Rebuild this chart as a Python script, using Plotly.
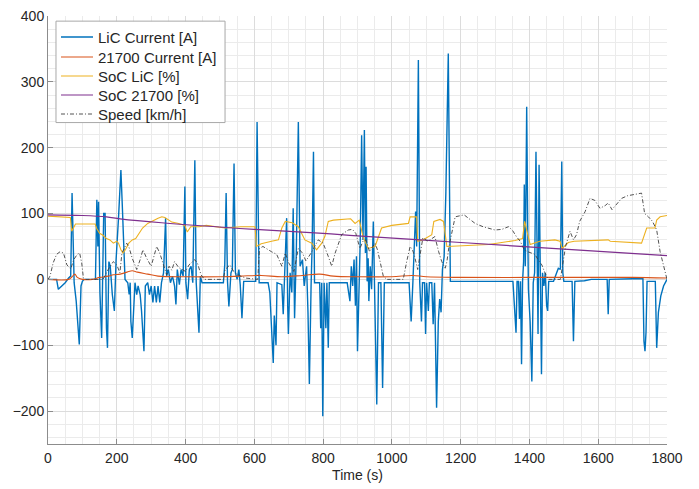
import plotly.graph_objects as go

# ---------------- data ----------------
lic_t = [0,25,30,40,50,60,66,70,73,76,
         82,91,96,100,105,138,142,145,147,151,
         156,160,162,166,170,173,177,181,187,193,
         198,205,212,216,220,224,232,236,239,241,
         245,249,253,258,262,268,272,279,283,290,
         295,300,305,310,315,320,325,330,336,342,
         345,350,356,362,368,372,376,382,387,393,
         398,401,406,411,416,421,427,431,435,439,
         443,448,455,510,514,518,522,526,532,536,
         541,545,550,555,559,564,569,604,608,611,
         614,622,640,645,650,655,658,663,666,680,
         684,690,694,697,699,704,709,713,717,722,
         728,733,740,745,752,756,760,765,768,772,
         775,790,793,796,799,803,808,811,815,818,
         870,878,882,886,890,894,897,900,904,908,
         912,916,920,923,925,928,931,933,937,941,
         946,950,956,961,968,973,978,1050,1053,1056,
         1061,1065,1069,1072,1077,1081,1086,1089,1095,1098,
         1101,1106,1109,1116,1120,1124,1130,1135,1139,1143,
         1147,1152,1157,1164,1167,1170,1352,1356,1361,1364,
         1368,1371,1374,1377,1380,1383,1385,1388,1392,1395,
         1397,1402,1407,1411,1415,1419,1422,1425,1428,1431,
         1435,1438,1442,1446,1450,1453,1456,1470,1478,1484,
         1490,1494,1497,1500,1524,1528,1532,1560,1580,1600,
         1626,1629,1632,1700,1730,1733,1736,1739,1742,1766,
         1770,1775,1782,1790,1800]
lic_current = [0,0,-15,-10,-5,2,5,131,60,-5,
               -33,-99,-10,-3,0,0,121,50,118,-20,
               -89,30,100,100,-74,-104,27,20,-23,-48,
               30,93,166,113,38,0,-5,-23,-5,-64,
               -89,-55,-5,-23,-10,-23,-48,-109,-10,-5,
               -23,-10,-35,-10,-35,-10,-35,-5,10,93,
               5,15,-5,5,-10,-38,15,-8,15,5,
               141,-5,-30,15,20,-5,181,-5,-35,-81,
               5,-5,-5,-5,22,131,-3,-41,10,15,
               176,10,0,15,-8,-59,-3,-3,239,50,
               -5,-5,-5,-20,-64,-127,-55,-100,-5,-8,
               -53,20,93,-40,-83,10,-20,108,-59,40,
               239,20,30,-10,20,-50,-159,-10,50,194,
               -5,-5,-74,-5,-208,-5,-74,-5,-104,-5,
               -5,-33,20,-10,30,-40,35,-109,-20,60,
               219,60,227,40,171,-3,32,-33,20,-15,
               88,-20,-190,-5,-5,-165,-5,-5,-30,-64,
               -5,50,103,50,333,-5,-64,-5,-5,-83,
               -5,-48,-5,-5,-68,-5,-195,-64,-30,-50,
               15,35,133,343,133,-3,-3,-38,-81,-3,
               -3,-60,-3,-129,-3,27,144,20,262,80,
               -15,-64,-155,-5,10,194,-20,-83,174,10,
               -144,10,-10,10,-40,-48,-3,-3,8,17,
               15,179,10,-3,-3,-94,-3,-2,0,0,
               0,-53,0,1,1,-94,-109,-80,-3,-3,
               -104,-50,-25,-10,0]

cur21700_t = [0,60,70,78,85,100,130,150,175,190,
              210,230,245,260,290,320,400,500,560,620,
              680,740,790,830,900,1000,1060,1100,1200,1400,
              1600,1700,1800]
cur21700 = [0,0,4,8,3,0,0,3,5,7,
            8,11,13,11,8,5,4,4,5,6,
            4,6,8,5,4,4,6,4,3,3,
            3,3,2]

soc_lic_t = [0,30,65,69,75,80,137,142,150,160,
             170,180,190,200,205,212,218,225,235,245,
             255,265,275,290,300,320,331,340,360,380,
             398,405,415,440,460,515,560,602,606,620,
             650,670,680,690,710,728,747,767,781,796,
             805,815,830,864,880,893,905,917,931,951,
             970,1000,1048,1053,1072,1075,1090,1116,1122,1140,
             1150,1160,1200,1281,1358,1380,1386,1392,1402,1430,
             1474,1489,1495,1513,1530,1629,1635,1726,1741,1765,
             1770,1780,1800]
soc_lic = [96,95,94,73,80,84,84,77,70,67,
           62,60,55,58,55,45,40,45,55,60,
           62,70,78,85,88,93,95,94,87,85,
           82,72,80,80,82,78,80,80,50,54,
           58,60,78,88,86,80,60,55,45,55,
           65,88,90,92,92,85,90,63,47,50,
           78,82,85,95,95,58,60,68,88,91,
           88,50,51,53,59,62,88,75,53,58,
           60,58,47,56,58,60,58,55,78,78,
           90,95,97]

soc_21700_t = [0,100,170,210,330,600,800,900,1200,1500,1800]
soc_21700 = [98,97,95,92,86,76,70,66,56,46,36]

speed_t = [0,6,15,25,35,45,55,66,75,85,
           92,98,103,110,160,166,175,190,200,209,
           215,229,236,245,258,268,276,287,300,316,
           325,345,352,360,368,380,400,410,427,435,
           445,455,510,515,529,540,555,575,600,610,
           615,625,650,665,680,690,700,715,728,740,
           750,765,786,800,815,825,835,854,873,885,
           895,907,916,925,935,945,951,958,965,975,
           985,1033,1043,1053,1060,1066,1075,1090,1105,1125,
           1136,1145,1155,1160,1166,1184,1210,1242,1265,1300,
           1320,1339,1350,1362,1373,1385,1395,1416,1425,1436,
           1445,1455,1490,1498,1505,1518,1528,1537,1546,1562,
           1576,1590,1605,1620,1629,1640,1654,1668,1685,1705,
           1726,1735,1746,1758,1770,1780,1790,1800]
speed = [0,5,25,38,42,40,22,16,30,38,
         40,25,2,0,0,7,15,27,22,10,
         40,55,48,32,15,30,45,32,20,50,
         40,7,20,14,27,18,12,22,30,24,
         7,0,0,15,22,12,6,2,0,0,
         47,50,42,38,20,40,25,12,47,40,
         28,40,60,55,35,20,40,68,75,76,
         70,47,58,60,42,50,55,45,27,5,
         0,0,27,50,45,35,15,63,58,65,
         42,27,17,27,50,95,98,85,80,75,
         76,80,75,65,58,45,42,38,30,22,
         10,0,0,27,50,73,60,68,88,103,
         123,120,108,112,116,106,115,123,127,129,
         131,100,95,88,75,42,20,0]

x_ticks = [0,200,400,600,800,1000,1200,1400,1600,1800]
y_ticks = [-200,-100,0,100,200,300,400]

series_names = ["LiC Current [A]", "21700 Current [A]", "SoC LiC [%]",
                "SoC 21700 [%]", "Speed [km/h]"]
series_colors = ["#0072BD", "#D95319", "#EDB120", "#7E2F8E", "#404040"]
series_widths = [1.4, 1.1, 1.1, 1.2, 0.9]
series_dash = ["solid", "solid", "solid", "solid", "4px,2px,1px,2px"]

# ---------------- figure ----------------
xs = [lic_t, cur21700_t, soc_lic_t, soc_21700_t, speed_t]
ys = [lic_current, cur21700, soc_lic, soc_21700, speed]
shapes_line = ["linear", "spline", "linear", "spline", "linear"]

fig = go.Figure()
for i in range(5):
    fig.add_trace(go.Scatter(x=xs[i], y=ys[i], mode="lines", name=series_names[i],
                             showlegend=False,
                             line=dict(color=series_colors[i], width=series_widths[i],
                                       dash=series_dash[i], shape=shapes_line[i])))

# legend box drawn in plot-area (paper) coordinates
box_x0, box_x1, box_y0, box_y1 = 0.0129, 0.286, 0.751, 0.988
line_x0, line_x1, text_x = 0.021, 0.0727, 0.0775
row_y = [0.9509, 0.9042, 0.8598, 0.8154, 0.771]
shapes = [dict(type="rect", xref="paper", yref="paper", x0=box_x0, x1=box_x1,
               y0=box_y0, y1=box_y1, fillcolor="white",
               line=dict(color="#a8a8a8", width=1), layer="above")]
annotations = []
for i in range(5):
    shapes.append(dict(type="line", xref="paper", yref="paper", x0=line_x0, x1=line_x1,
                       y0=row_y[i], y1=row_y[i],
                       line=dict(color=series_colors[i], width=series_widths[i],
                                 dash=series_dash[i]), layer="above"))
    annotations.append(dict(xref="paper", yref="paper", x=text_x, y=row_y[i],
                            xanchor="left", yanchor="middle", showarrow=False,
                            text=series_names[i],
                            font=dict(size=15, color="#262626")))

font_family = "Liberation Sans, Arial, sans-serif"
fig.update_layout(
    width=699, height=489,
    margin=dict(l=40, r=40, t=8, b=53),
    paper_bgcolor="white", plot_bgcolor="white",
    font=dict(family=font_family, size=14, color="#262626"),
    showlegend=False,
    shapes=shapes, annotations=annotations,
    xaxis=dict(range=[0, 1800], tickvals=x_ticks, ticks="inside", ticklen=5,
               tickcolor="#8c8c8c", showline=True, linecolor="#8c8c8c", linewidth=1,
               showgrid=True, gridcolor="#dcdcdc", gridwidth=1, zeroline=False,
               minor=dict(dtick=50, showgrid=True, gridcolor="#ebebeb", gridwidth=1),
               ticklabelstandoff=1, automargin=False, ticklabeloverflow="allow",
               title=dict(text="Time (s)", font=dict(size=14, color="#262626"), standoff=5),
               tickfont=dict(size=14, color="#262626")),
    yaxis=dict(range=[-250, 400], tickvals=y_ticks, ticks="inside", ticklen=5,
               tickcolor="#8c8c8c", showline=True, linecolor="#8c8c8c", linewidth=1,
               showgrid=True, gridcolor="#dcdcdc", gridwidth=1, zeroline=False,
               minor=dict(dtick=20, showgrid=True, gridcolor="#ebebeb", gridwidth=1),
               automargin=False, ticklabeloverflow="allow",
               tickfont=dict(size=14, color="#262626")),
)
fig.write_html("out.html")
